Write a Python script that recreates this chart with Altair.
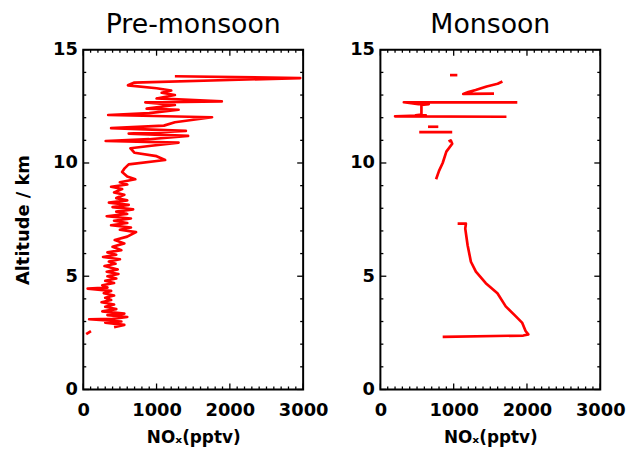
import altair as alt
import pandas as pd

# ---------------- data ----------------
pre_nox = [40, 105,
           420, 560, 300, 520, 80, 400, 600, 330, 560, 260, 450, 300, 420, 250,
           380, 300, 420, 280, 380, 60, 330, 260, 420, 300, 450, 330, 480, 320,
           470, 290, 440, 350, 500, 270, 450, 330, 520, 400, 560, 430, 600, 720,
           500, 650, 380, 600, 420, 650, 320, 600, 450, 680, 400, 620, 350, 600,
           450, 560, 420, 530, 380, 600, 500, 710, 600, 530, 560, 620, 1117, 1000,
           700, 644, 900, 1300, 306, 900, 1430, 620, 1400, 380, 1100, 1250, 1757,
           340, 900, 1300, 865, 1250, 847, 1890, 1000, 1250, 1070, 1200, 1000,
           610, 690, 2960, 1250]
pre_alt = [2.44, 2.58,
           2.75, 2.85, 2.95, 3.0, 3.1, 3.12, 3.2, 3.28, 3.35, 3.45, 3.55, 3.65, 3.75, 3.85,
           3.95, 4.05, 4.15, 4.25, 4.35, 4.45, 4.5, 4.6, 4.7, 4.8, 4.9, 5.0, 5.1, 5.2,
           5.3, 5.45, 5.55, 5.65, 5.75, 5.85, 5.95, 6.05, 6.15, 6.3, 6.45, 6.6, 6.75, 6.95,
           7.05, 7.15, 7.25, 7.35, 7.45, 7.55, 7.65, 7.75, 7.85, 7.95, 8.05, 8.15, 8.25, 8.35,
           8.45, 8.6, 8.7, 8.85, 8.95, 9.05, 9.15, 9.28, 9.4, 9.6, 9.75, 9.94, 10.13, 10.3,
           10.45, 10.65, 10.75, 10.9, 10.97, 11.05, 11.2, 11.3, 11.42, 11.54, 11.65, 11.8, 12.02,
           12.12, 12.2, 12.35, 12.4, 12.56, 12.68, 12.72, 12.85, 13.0, 13.1, 13.2, 13.3,
           13.43, 13.55, 13.75, 13.83]
pre_seg = ["a"] * 2 + ["b"] * (len(pre_nox) - 2)

mon_nox = [950, 1050,
           1550, 1130, 1200, 1300, 1450, 1600, 1665,
           1868, 320, 520, 660, 560, 560, 480, 620, 200, 1720,
           650, 790,
           530, 980,
           930, 960, 980, 900, 850, 800, 760,
           1054, 1167, 1158, 1190, 1235, 1303, 1438, 1597, 1710, 1845, 1936, 1981,
           2018, 1950, 850]
mon_alt = [13.88, 13.88,
           13.06, 13.05, 13.13, 13.22, 13.38, 13.5, 13.6,
           12.68, 12.68, 12.6, 12.6, 12.56, 12.14, 12.1, 12.1, 12.06, 12.04,
           11.6, 11.6,
           11.36, 11.36,
           10.95, 11.0, 10.85, 10.5, 10.0, 9.65, 9.28,
           7.32, 7.32, 7.1, 6.37, 5.64, 5.2, 4.69, 4.25, 3.67, 3.24, 2.94, 2.58,
           2.43, 2.38, 2.32]
mon_seg = (["a"] * 2 + ["b"] * 7 + ["c"] * 10 + ["d"] * 2 + ["e"] * 2 +
           ["f"] * 7 + ["g"] * 15)

x_major = [0, 1000, 2000, 3000]
x_minor = [v for v in range(0, 3001, 100) if v % 1000]
y_major = [0, 5, 10, 15]
y_minor = [v for v in range(0, 16) if v % 5]

# ---------------- layout ----------------
W, H = 222, 343
FONT = "DejaVu Sans"
xs = alt.Scale(domain=[0, 3000], nice=False, zero=False)
ys = alt.Scale(domain=[0, 15], nice=False, zero=False)
XAXIS = alt.Axis(values=x_major, format="d", title="NOₓ(pptv)", ticks=False, domain=False,
                 grid=False, labelOverlap=False, labelFlush=False, labelPadding=12,
                 titlePadding=11, titleFontSize=17)


def yaxis_for(ytitle):
    if ytitle:
        return alt.Axis(values=y_major, format="d", title=ytitle, ticks=False, domain=False,
                        grid=False, labelOverlap=False, labelFlush=False, labelPadding=6,
                        titlePadding=20, titleFontSize=18)
    return alt.Axis(values=y_major, format="d", title=None, ticks=False, domain=False,
                    grid=False, labelOverlap=False, labelFlush=False, labelPadding=6)


def tick_layers(yaxis):
    layers = []
    for vals, ln in ((x_major, 6), (x_minor, 3)):
        base = alt.Chart(pd.DataFrame({"t": vals})).mark_rule(color="black", strokeWidth=1.3)
        layers.append(base.encode(x=alt.X("t:Q", scale=xs, axis=XAXIS),
                                  y=alt.value(H), y2=alt.value(H - ln)))
        layers.append(base.encode(x=alt.X("t:Q", scale=xs, axis=XAXIS),
                                  y=alt.value(0), y2=alt.value(ln)))
    for vals, ln in ((y_major, 6), (y_minor, 3)):
        base = alt.Chart(pd.DataFrame({"t": vals})).mark_rule(color="black", strokeWidth=1.3)
        layers.append(base.encode(y=alt.Y("t:Q", scale=ys, axis=yaxis),
                                  x=alt.value(0), x2=alt.value(ln)))
        layers.append(base.encode(y=alt.Y("t:Q", scale=ys, axis=yaxis),
                                  x=alt.value(W), x2=alt.value(W - ln)))
    return layers


def panel(nox, alts, seg, title, ytitle):
    df = pd.DataFrame({"nox": nox, "alt": alts, "seg": seg, "i": list(range(len(nox)))})
    yaxis = yaxis_for(ytitle)
    line = alt.Chart(df).mark_line(color="#ff0000", strokeWidth=2.7, strokeJoin="round").encode(
        x=alt.X("nox:Q", scale=xs, axis=XAXIS),
        y=alt.Y("alt:Q", scale=ys, axis=yaxis),
        detail="seg:N",
        order="i:Q",
    )
    return alt.layer(line, *tick_layers(yaxis)).properties(
        width=W, height=H,
        title=alt.TitleParams(title, fontSize=27, font=FONT, fontWeight="normal",
                              frame="group", offset=2, anchor="middle"),
    )


left = panel(pre_nox, pre_alt, pre_seg, "Pre-monsoon", "Altitude / km")
right = panel(mon_nox, mon_alt, mon_seg, "Monsoon", None)

chart = alt.hconcat(left, right, spacing=78, bounds="flush").properties(
    padding={"left": 5, "top": 0, "right": 0, "bottom": 4},
    background="white",
).configure_view(stroke="black", strokeWidth=2).configure_axis(
    labelFont=FONT, labelFontSize=18, labelFontWeight="bold", labelColor="black",
    titleFont=FONT, titleFontWeight="bold", titleColor="black",
)

chart.save("out.html", embed_options={"renderer": "svg", "actions": False})
